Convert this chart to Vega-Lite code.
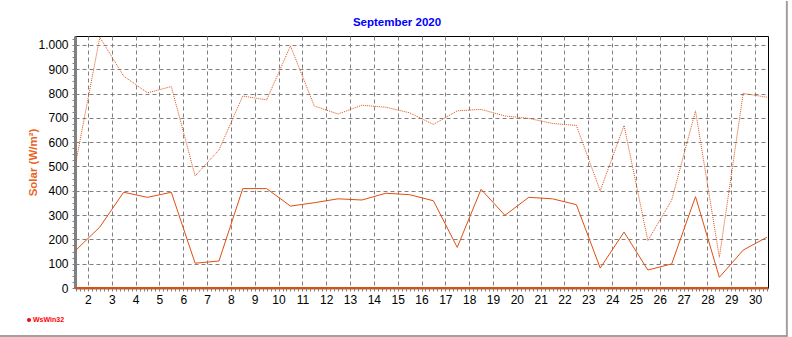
{
  "$schema": "https://vega.github.io/schema/vega-lite/v6.json",
  "width": 693,
  "height": 252,
  "autosize": "none",
  "padding": {"left": 75, "top": 36, "right": 24, "bottom": 49},
  "background": "white",
  "title": {
    "text": "September 2020",
    "color": "#0000FF",
    "font": "Liberation Sans",
    "fontSize": 11.5,
    "fontWeight": "bold",
    "anchor": "middle",
    "frame": "group",
    "dx": -24.5,
    "offset": -28
  },
  "config": {
    "view": {"stroke": "#000000", "strokeWidth": 1},
    "axis": {"labelFont": "Liberation Sans", "labelFontSize": 12, "labelColor": "#000000"}
  },
  "data": {
    "values": [
      {"time": "2020-09-01T12:00:00", "avg": 156, "max": 520},
      {"time": "2020-09-02T12:00:00", "avg": 251, "max": 1032},
      {"time": "2020-09-03T12:00:00", "avg": 394, "max": 872},
      {"time": "2020-09-04T12:00:00", "avg": 373, "max": 803},
      {"time": "2020-09-05T12:00:00", "avg": 394, "max": 829},
      {"time": "2020-09-06T12:00:00", "avg": 102, "max": 461},
      {"time": "2020-09-07T12:00:00", "avg": 111, "max": 568},
      {"time": "2020-09-08T12:00:00", "avg": 409, "max": 790},
      {"time": "2020-09-09T12:00:00", "avg": 409, "max": 774},
      {"time": "2020-09-10T12:00:00", "avg": 337, "max": 996},
      {"time": "2020-09-11T12:00:00", "avg": 351, "max": 749},
      {"time": "2020-09-12T12:00:00", "avg": 367, "max": 716},
      {"time": "2020-09-13T12:00:00", "avg": 362, "max": 752},
      {"time": "2020-09-14T12:00:00", "avg": 390, "max": 744},
      {"time": "2020-09-15T12:00:00", "avg": 384, "max": 721},
      {"time": "2020-09-16T12:00:00", "avg": 359, "max": 673},
      {"time": "2020-09-17T12:00:00", "avg": 167, "max": 729},
      {"time": "2020-09-18T12:00:00", "avg": 406, "max": 735},
      {"time": "2020-09-19T12:00:00", "avg": 299, "max": 708},
      {"time": "2020-09-20T12:00:00", "avg": 373, "max": 698},
      {"time": "2020-09-21T12:00:00", "avg": 367, "max": 677},
      {"time": "2020-09-22T12:00:00", "avg": 343, "max": 669},
      {"time": "2020-09-23T12:00:00", "avg": 82, "max": 400},
      {"time": "2020-09-24T12:00:00", "avg": 230, "max": 669},
      {"time": "2020-09-25T12:00:00", "avg": 74, "max": 195},
      {"time": "2020-09-26T12:00:00", "avg": 99, "max": 362},
      {"time": "2020-09-27T12:00:00", "avg": 376, "max": 729},
      {"time": "2020-09-28T12:00:00", "avg": 44, "max": 126},
      {"time": "2020-09-29T12:00:00", "avg": 156, "max": 801},
      {"time": "2020-09-30T12:00:00", "avg": 209, "max": 785}
    ]
  },
  "layer": [
    {
      "mark": {"type": "line", "color": "#E04E10", "strokeWidth": 1},
      "encoding": {
        "x": {
          "field": "time", "type": "temporal",
          "scale": {"domain": [{"year": 2020, "month": 9, "date": 1, "hours": 11}, {"year": 2020, "month": 9, "date": 30, "hours": 13}], "nice": false},
          "axis": {
            "orient": "bottom", "title": null,
            "tickCount": 1000,
            "values": [
              {"year":2020,"month":9,"date":1,"hours":12},{"year":2020,"month":9,"date":1,"hours":16},{"year":2020,"month":9,"date":1,"hours":20},
              {"year":2020,"month":9,"date":2,"hours":0},{"year":2020,"month":9,"date":2,"hours":4},{"year":2020,"month":9,"date":2,"hours":8},{"year":2020,"month":9,"date":2,"hours":12},{"year":2020,"month":9,"date":2,"hours":16},{"year":2020,"month":9,"date":2,"hours":20},
              {"year":2020,"month":9,"date":3,"hours":0},{"year":2020,"month":9,"date":3,"hours":4},{"year":2020,"month":9,"date":3,"hours":8},{"year":2020,"month":9,"date":3,"hours":12},{"year":2020,"month":9,"date":3,"hours":16},{"year":2020,"month":9,"date":3,"hours":20},
              {"year":2020,"month":9,"date":4,"hours":0},{"year":2020,"month":9,"date":4,"hours":4},{"year":2020,"month":9,"date":4,"hours":8},{"year":2020,"month":9,"date":4,"hours":12},{"year":2020,"month":9,"date":4,"hours":16},{"year":2020,"month":9,"date":4,"hours":20},
              {"year":2020,"month":9,"date":5,"hours":0},{"year":2020,"month":9,"date":5,"hours":4},{"year":2020,"month":9,"date":5,"hours":8},{"year":2020,"month":9,"date":5,"hours":12},{"year":2020,"month":9,"date":5,"hours":16},{"year":2020,"month":9,"date":5,"hours":20},
              {"year":2020,"month":9,"date":6,"hours":0},{"year":2020,"month":9,"date":6,"hours":4},{"year":2020,"month":9,"date":6,"hours":8},{"year":2020,"month":9,"date":6,"hours":12},{"year":2020,"month":9,"date":6,"hours":16},{"year":2020,"month":9,"date":6,"hours":20},
              {"year":2020,"month":9,"date":7,"hours":0},{"year":2020,"month":9,"date":7,"hours":4},{"year":2020,"month":9,"date":7,"hours":8},{"year":2020,"month":9,"date":7,"hours":12},{"year":2020,"month":9,"date":7,"hours":16},{"year":2020,"month":9,"date":7,"hours":20},
              {"year":2020,"month":9,"date":8,"hours":0},{"year":2020,"month":9,"date":8,"hours":4},{"year":2020,"month":9,"date":8,"hours":8},{"year":2020,"month":9,"date":8,"hours":12},{"year":2020,"month":9,"date":8,"hours":16},{"year":2020,"month":9,"date":8,"hours":20},
              {"year":2020,"month":9,"date":9,"hours":0},{"year":2020,"month":9,"date":9,"hours":4},{"year":2020,"month":9,"date":9,"hours":8},{"year":2020,"month":9,"date":9,"hours":12},{"year":2020,"month":9,"date":9,"hours":16},{"year":2020,"month":9,"date":9,"hours":20},
              {"year":2020,"month":9,"date":10,"hours":0},{"year":2020,"month":9,"date":10,"hours":4},{"year":2020,"month":9,"date":10,"hours":8},{"year":2020,"month":9,"date":10,"hours":12},{"year":2020,"month":9,"date":10,"hours":16},{"year":2020,"month":9,"date":10,"hours":20},
              {"year":2020,"month":9,"date":11,"hours":0},{"year":2020,"month":9,"date":11,"hours":4},{"year":2020,"month":9,"date":11,"hours":8},{"year":2020,"month":9,"date":11,"hours":12},{"year":2020,"month":9,"date":11,"hours":16},{"year":2020,"month":9,"date":11,"hours":20},
              {"year":2020,"month":9,"date":12,"hours":0},{"year":2020,"month":9,"date":12,"hours":4},{"year":2020,"month":9,"date":12,"hours":8},{"year":2020,"month":9,"date":12,"hours":12},{"year":2020,"month":9,"date":12,"hours":16},{"year":2020,"month":9,"date":12,"hours":20},
              {"year":2020,"month":9,"date":13,"hours":0},{"year":2020,"month":9,"date":13,"hours":4},{"year":2020,"month":9,"date":13,"hours":8},{"year":2020,"month":9,"date":13,"hours":12},{"year":2020,"month":9,"date":13,"hours":16},{"year":2020,"month":9,"date":13,"hours":20},
              {"year":2020,"month":9,"date":14,"hours":0},{"year":2020,"month":9,"date":14,"hours":4},{"year":2020,"month":9,"date":14,"hours":8},{"year":2020,"month":9,"date":14,"hours":12},{"year":2020,"month":9,"date":14,"hours":16},{"year":2020,"month":9,"date":14,"hours":20},
              {"year":2020,"month":9,"date":15,"hours":0},{"year":2020,"month":9,"date":15,"hours":4},{"year":2020,"month":9,"date":15,"hours":8},{"year":2020,"month":9,"date":15,"hours":12},{"year":2020,"month":9,"date":15,"hours":16},{"year":2020,"month":9,"date":15,"hours":20},
              {"year":2020,"month":9,"date":16,"hours":0},{"year":2020,"month":9,"date":16,"hours":4},{"year":2020,"month":9,"date":16,"hours":8},{"year":2020,"month":9,"date":16,"hours":12},{"year":2020,"month":9,"date":16,"hours":16},{"year":2020,"month":9,"date":16,"hours":20},
              {"year":2020,"month":9,"date":17,"hours":0},{"year":2020,"month":9,"date":17,"hours":4},{"year":2020,"month":9,"date":17,"hours":8},{"year":2020,"month":9,"date":17,"hours":12},{"year":2020,"month":9,"date":17,"hours":16},{"year":2020,"month":9,"date":17,"hours":20},
              {"year":2020,"month":9,"date":18,"hours":0},{"year":2020,"month":9,"date":18,"hours":4},{"year":2020,"month":9,"date":18,"hours":8},{"year":2020,"month":9,"date":18,"hours":12},{"year":2020,"month":9,"date":18,"hours":16},{"year":2020,"month":9,"date":18,"hours":20},
              {"year":2020,"month":9,"date":19,"hours":0},{"year":2020,"month":9,"date":19,"hours":4},{"year":2020,"month":9,"date":19,"hours":8},{"year":2020,"month":9,"date":19,"hours":12},{"year":2020,"month":9,"date":19,"hours":16},{"year":2020,"month":9,"date":19,"hours":20},
              {"year":2020,"month":9,"date":20,"hours":0},{"year":2020,"month":9,"date":20,"hours":4},{"year":2020,"month":9,"date":20,"hours":8},{"year":2020,"month":9,"date":20,"hours":12},{"year":2020,"month":9,"date":20,"hours":16},{"year":2020,"month":9,"date":20,"hours":20},
              {"year":2020,"month":9,"date":21,"hours":0},{"year":2020,"month":9,"date":21,"hours":4},{"year":2020,"month":9,"date":21,"hours":8},{"year":2020,"month":9,"date":21,"hours":12},{"year":2020,"month":9,"date":21,"hours":16},{"year":2020,"month":9,"date":21,"hours":20},
              {"year":2020,"month":9,"date":22,"hours":0},{"year":2020,"month":9,"date":22,"hours":4},{"year":2020,"month":9,"date":22,"hours":8},{"year":2020,"month":9,"date":22,"hours":12},{"year":2020,"month":9,"date":22,"hours":16},{"year":2020,"month":9,"date":22,"hours":20},
              {"year":2020,"month":9,"date":23,"hours":0},{"year":2020,"month":9,"date":23,"hours":4},{"year":2020,"month":9,"date":23,"hours":8},{"year":2020,"month":9,"date":23,"hours":12},{"year":2020,"month":9,"date":23,"hours":16},{"year":2020,"month":9,"date":23,"hours":20},
              {"year":2020,"month":9,"date":24,"hours":0},{"year":2020,"month":9,"date":24,"hours":4},{"year":2020,"month":9,"date":24,"hours":8},{"year":2020,"month":9,"date":24,"hours":12},{"year":2020,"month":9,"date":24,"hours":16},{"year":2020,"month":9,"date":24,"hours":20},
              {"year":2020,"month":9,"date":25,"hours":0},{"year":2020,"month":9,"date":25,"hours":4},{"year":2020,"month":9,"date":25,"hours":8},{"year":2020,"month":9,"date":25,"hours":12},{"year":2020,"month":9,"date":25,"hours":16},{"year":2020,"month":9,"date":25,"hours":20},
              {"year":2020,"month":9,"date":26,"hours":0},{"year":2020,"month":9,"date":26,"hours":4},{"year":2020,"month":9,"date":26,"hours":8},{"year":2020,"month":9,"date":26,"hours":12},{"year":2020,"month":9,"date":26,"hours":16},{"year":2020,"month":9,"date":26,"hours":20},
              {"year":2020,"month":9,"date":27,"hours":0},{"year":2020,"month":9,"date":27,"hours":4},{"year":2020,"month":9,"date":27,"hours":8},{"year":2020,"month":9,"date":27,"hours":12},{"year":2020,"month":9,"date":27,"hours":16},{"year":2020,"month":9,"date":27,"hours":20},
              {"year":2020,"month":9,"date":28,"hours":0},{"year":2020,"month":9,"date":28,"hours":4},{"year":2020,"month":9,"date":28,"hours":8},{"year":2020,"month":9,"date":28,"hours":12},{"year":2020,"month":9,"date":28,"hours":16},{"year":2020,"month":9,"date":28,"hours":20},
              {"year":2020,"month":9,"date":29,"hours":0},{"year":2020,"month":9,"date":29,"hours":4},{"year":2020,"month":9,"date":29,"hours":8},{"year":2020,"month":9,"date":29,"hours":12},{"year":2020,"month":9,"date":29,"hours":16},{"year":2020,"month":9,"date":29,"hours":20},
              {"year":2020,"month":9,"date":30,"hours":0},{"year":2020,"month":9,"date":30,"hours":4},{"year":2020,"month":9,"date":30,"hours":8},{"year":2020,"month":9,"date":30,"hours":12}
            ],
            "labelExpr": "hours(datum.value) == 0 ? timeFormat(datum.value, '%-d') : ''",
            "labelFlush": false, "labelOverlap": false, "labelPadding": 3,
            "tickSize": 3, "tickColor": "#808080",
            "domainColor": "#808080", "domainWidth": 2,
            "grid": true, "gridColor": "#808080", "gridDash": [4, 3], "gridWidth": 1,
            "gridOpacity": {"condition": {"test": "hours(datum.value) == 0", "value": 1}, "value": 0}
          }
        },
        "y": {
          "field": "avg", "type": "quantitative",
          "scale": {"domain": [0, 1037], "nice": false},
          "axis": {
            "orient": "left",
            "tickCount": 1000,
            "values": [0, 25, 50, 75, 100, 125, 150, 175, 200, 225, 250, 275, 300, 325, 350, 375, 400, 425, 450, 475, 500, 525, 550, 575, 600, 625, 650, 675, 700, 725, 750, 775, 800, 825, 850, 875, 900, 925, 950, 975, 1000, 1025],
            "labelExpr": "datum.value % 100 == 0 ? replace(format(datum.value, ','), ',', '.') : ''",
            "labelOverlap": false,
            "labelPadding": 4, "tickSize": 3, "tickColor": "#808080",
            "domainColor": "#808080", "domainWidth": 3,
            "grid": true, "gridColor": "#808080", "gridDash": [4, 3], "gridWidth": 1,
            "gridOpacity": {"condition": {"test": "datum.value % 100 == 0 && datum.value > 0", "value": 1}, "value": 0},
            "title": "Solar  (W/m²)",
            "titleColor": "#E8641E", "titleFont": "Liberation Sans", "titleFontSize": 11.5, "titleFontWeight": "bold",
            "titleX": -37, "titleY": 126, "titleAngle": -90, "titleAlign": "center", "titleBaseline": "bottom"
          }
        }
      }
    },
    {
      "mark": {"type": "line", "color": "#E04E10", "strokeWidth": 1, "strokeDash": [1, 1]},
      "encoding": {
        "x": {"field": "time", "type": "temporal"},
        "y": {"field": "max", "type": "quantitative"}
      }
    },
    {
      "mark": {"type": "rule", "color": "#E04E10", "strokeWidth": 1},
      "encoding": {
        "y": {"datum": 0, "type": "quantitative"}
      }
    },
    {
      "data": {"values": [{"label": "WsWin32"}]},
      "mark": {"type": "point", "shape": "circle", "filled": true, "color": "#FF0000", "size": 16, "opacity": 1},
      "encoding": {
        "x": {"datum": {"year": 2020, "month": 8, "date": 30, "hours": 12, "minutes": 40}, "type": "temporal"},
        "y": {"datum": -132, "type": "quantitative"}
      }
    },
    {
      "data": {"values": [{"label": "WsWin32"}]},
      "mark": {"type": "text", "color": "#FF0000", "font": "Liberation Sans", "fontSize": 7, "fontWeight": "bold", "align": "left", "baseline": "middle"},
      "encoding": {
        "text": {"field": "label"},
        "x": {"datum": {"year": 2020, "month": 8, "date": 30, "hours": 16, "minutes": 42}, "type": "temporal"},
        "y": {"datum": -132, "type": "quantitative"}
      }
    },
    {
      "data": {"values": [{"frame": "bottom"}]},
      "mark": {"type": "rule", "color": "#A0A0A0", "strokeWidth": 2},
      "encoding": {
        "x": {"datum": {"year": 2020, "month": 8, "date": 29, "hours": 7}, "type": "temporal"},
        "x2": {"datum": {"year": 2020, "month": 10, "date": 1, "hours": 9}},
        "y": {"datum": -197.5, "type": "quantitative"}
      }
    },
    {
      "data": {"values": [{"frame": "right"}]},
      "mark": {"type": "rule", "color": "#A0A0A0", "strokeWidth": 2},
      "encoding": {
        "x": {"datum": {"year": 2020, "month": 10, "date": 1, "hours": 8}, "type": "temporal"},
        "y": {"datum": 1181, "type": "quantitative"},
        "y2": {"datum": -197.5}
      }
    }
  ]
}
